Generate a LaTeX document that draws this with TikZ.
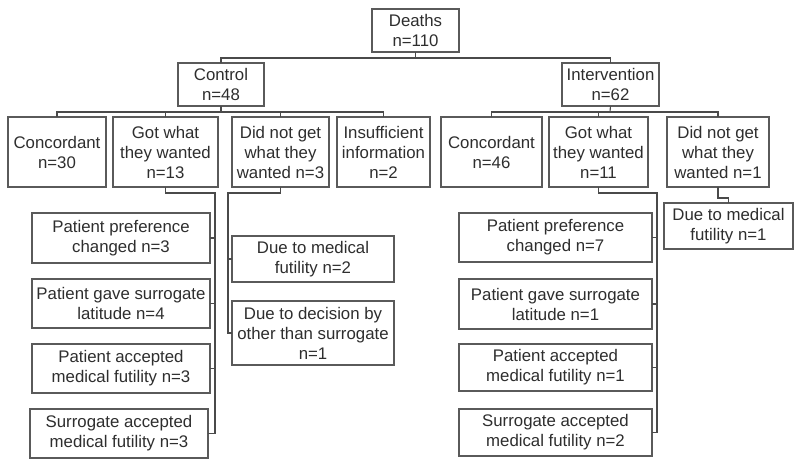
\documentclass[tikz,border=0pt]{standalone}
\usepackage{fontspec}
\setmainfont{Liberation Sans}
\definecolor{boxgray}{HTML}{5A5A5A}
\definecolor{linegray}{HTML}{4A4A4A}
\definecolor{textgray}{HTML}{2E2E2E}
\tikzset{
  bx/.style={draw=boxgray, line width=1.1pt, align=center, inner sep=0pt, outer sep=0pt,
    text=textgray, font=\fontsize{16.8}{20}\selectfont},
  conn/.style={draw=linegray, line width=1.1pt}
}
\newcommand\mybox[6]{%
  \node[bx, minimum width={(#4-#2)*1pt}, minimum height={(#5-#3)*1pt}] (#1) at ({(#2+#4)/2},{(#3+#5)/2}) {#6};}
\begin{document}
\begin{tikzpicture}[x=1pt,y=-1pt]
\fill[white] (0,0) rectangle (800,464);
\useasboundingbox (0,0) rectangle (800,464);
% level 0-1
\mybox{deaths}{372}{9}{459}{52}{Deaths\\n=110}
\mybox{control}{178}{63}{264}{106}{Control\\n=48}
\mybox{interv}{562}{63}{659}{106}{Intervention\\n=62}
% level 2
\mybox{concC}{8}{117}{106}{187}{Concordant\\n=30}
\mybox{gotC}{113}{117}{218}{187}{Got what\\they wanted\\n=13}
\mybox{notC}{232}{117}{329}{187}{Did not get\\what they\\wanted n=3}
\mybox{insuf}{337}{117}{430}{187}{Insufficient\\information\\n=2}
\mybox{concI}{441}{117}{542}{187}{Concordant\\n=46}
\mybox{gotI}{549}{117}{648}{187}{Got what\\they wanted\\n=11}
\mybox{notI}{667}{117}{769}{187}{Did not get\\what they\\wanted n=1}
% level 3 control
\mybox{ppC}{32}{213}{210}{263}{Patient preference\\changed n=3}
\mybox{pgC}{32}{279}{210}{328}{Patient gave surrogate\\latitude n=4}
\mybox{paC}{32}{344}{210}{393}{Patient accepted\\medical futility n=3}
\mybox{saC}{30}{409}{208}{458}{Surrogate accepted\\medical futility n=3}
\mybox{dmC}{232}{236}{394}{282}{Due to medical\\futility n=2}
\mybox{ddC}{232}{301}{394}{365}{Due to decision by\\other than surrogate\\n=1}
% level 3 intervention
\mybox{ppI}{459}{213}{652}{262}{Patient preference\\changed n=7}
\mybox{pgI}{459}{279}{652}{329}{Patient gave surrogate\\latitude n=1}
\mybox{paI}{459}{344}{652}{391}{Patient accepted\\medical futility n=1}
\mybox{saI}{459}{409}{652}{456}{Surrogate accepted\\medical futility n=2}
\mybox{dmI}{664}{203}{793}{249}{Due to medical\\futility n=1}
% junction coordinates
\coordinate (top) at (415.5,58);
\coordinate (cb) at (221,112);
\coordinate (ib) at (610,112);
\coordinate (busC) at (215,193);
\coordinate (busN) at (228,193);
\coordinate (busI) at (657,193);
\coordinate (jI) at (718,198);
% connectors
\draw[conn] (deaths.south) -- (top);
\draw[conn] (control.north) |- (top) -| (interv.north);
\draw[conn] (control.south) -- (cb);
\draw[conn] (concC.north) |- (cb) -| (insuf.north);
\draw[conn] (gotC.north) -- (gotC.north |- cb);
\draw[conn] (notC.north) -- (notC.north |- cb);
\draw[conn] (interv.south) -- (ib);
\draw[conn] (concI.north) |- (ib) -| (notI.north);
\draw[conn] (gotI.north) -- (gotI.north |- ib);
% got what they wanted (control)
\draw[conn] (gotC.south) |- (busC) -- (busC |- saC.east) -- (saC.east);
\foreach \n in {ppC,pgC,paC} \draw[conn] (\n.east) -- (\n.east -| busC);
% did not get (control)
\draw[conn] (notC.south) |- (busN) -- (busN |- ddC.west) -- (ddC.west);
\draw[conn] (dmC.west) -- (dmC.west -| busN);
% got what they wanted (intervention)
\draw[conn] (gotI.south) |- (busI) -- (busI |- saI.east) -- (saI.east);
\foreach \n in {ppI,pgI,paI} \draw[conn] (\n.east) -- (\n.east -| busI);
% did not get (intervention)
\draw[conn] (notI.south) -- (jI) -| (dmI.north);
\end{tikzpicture}
\end{document}
